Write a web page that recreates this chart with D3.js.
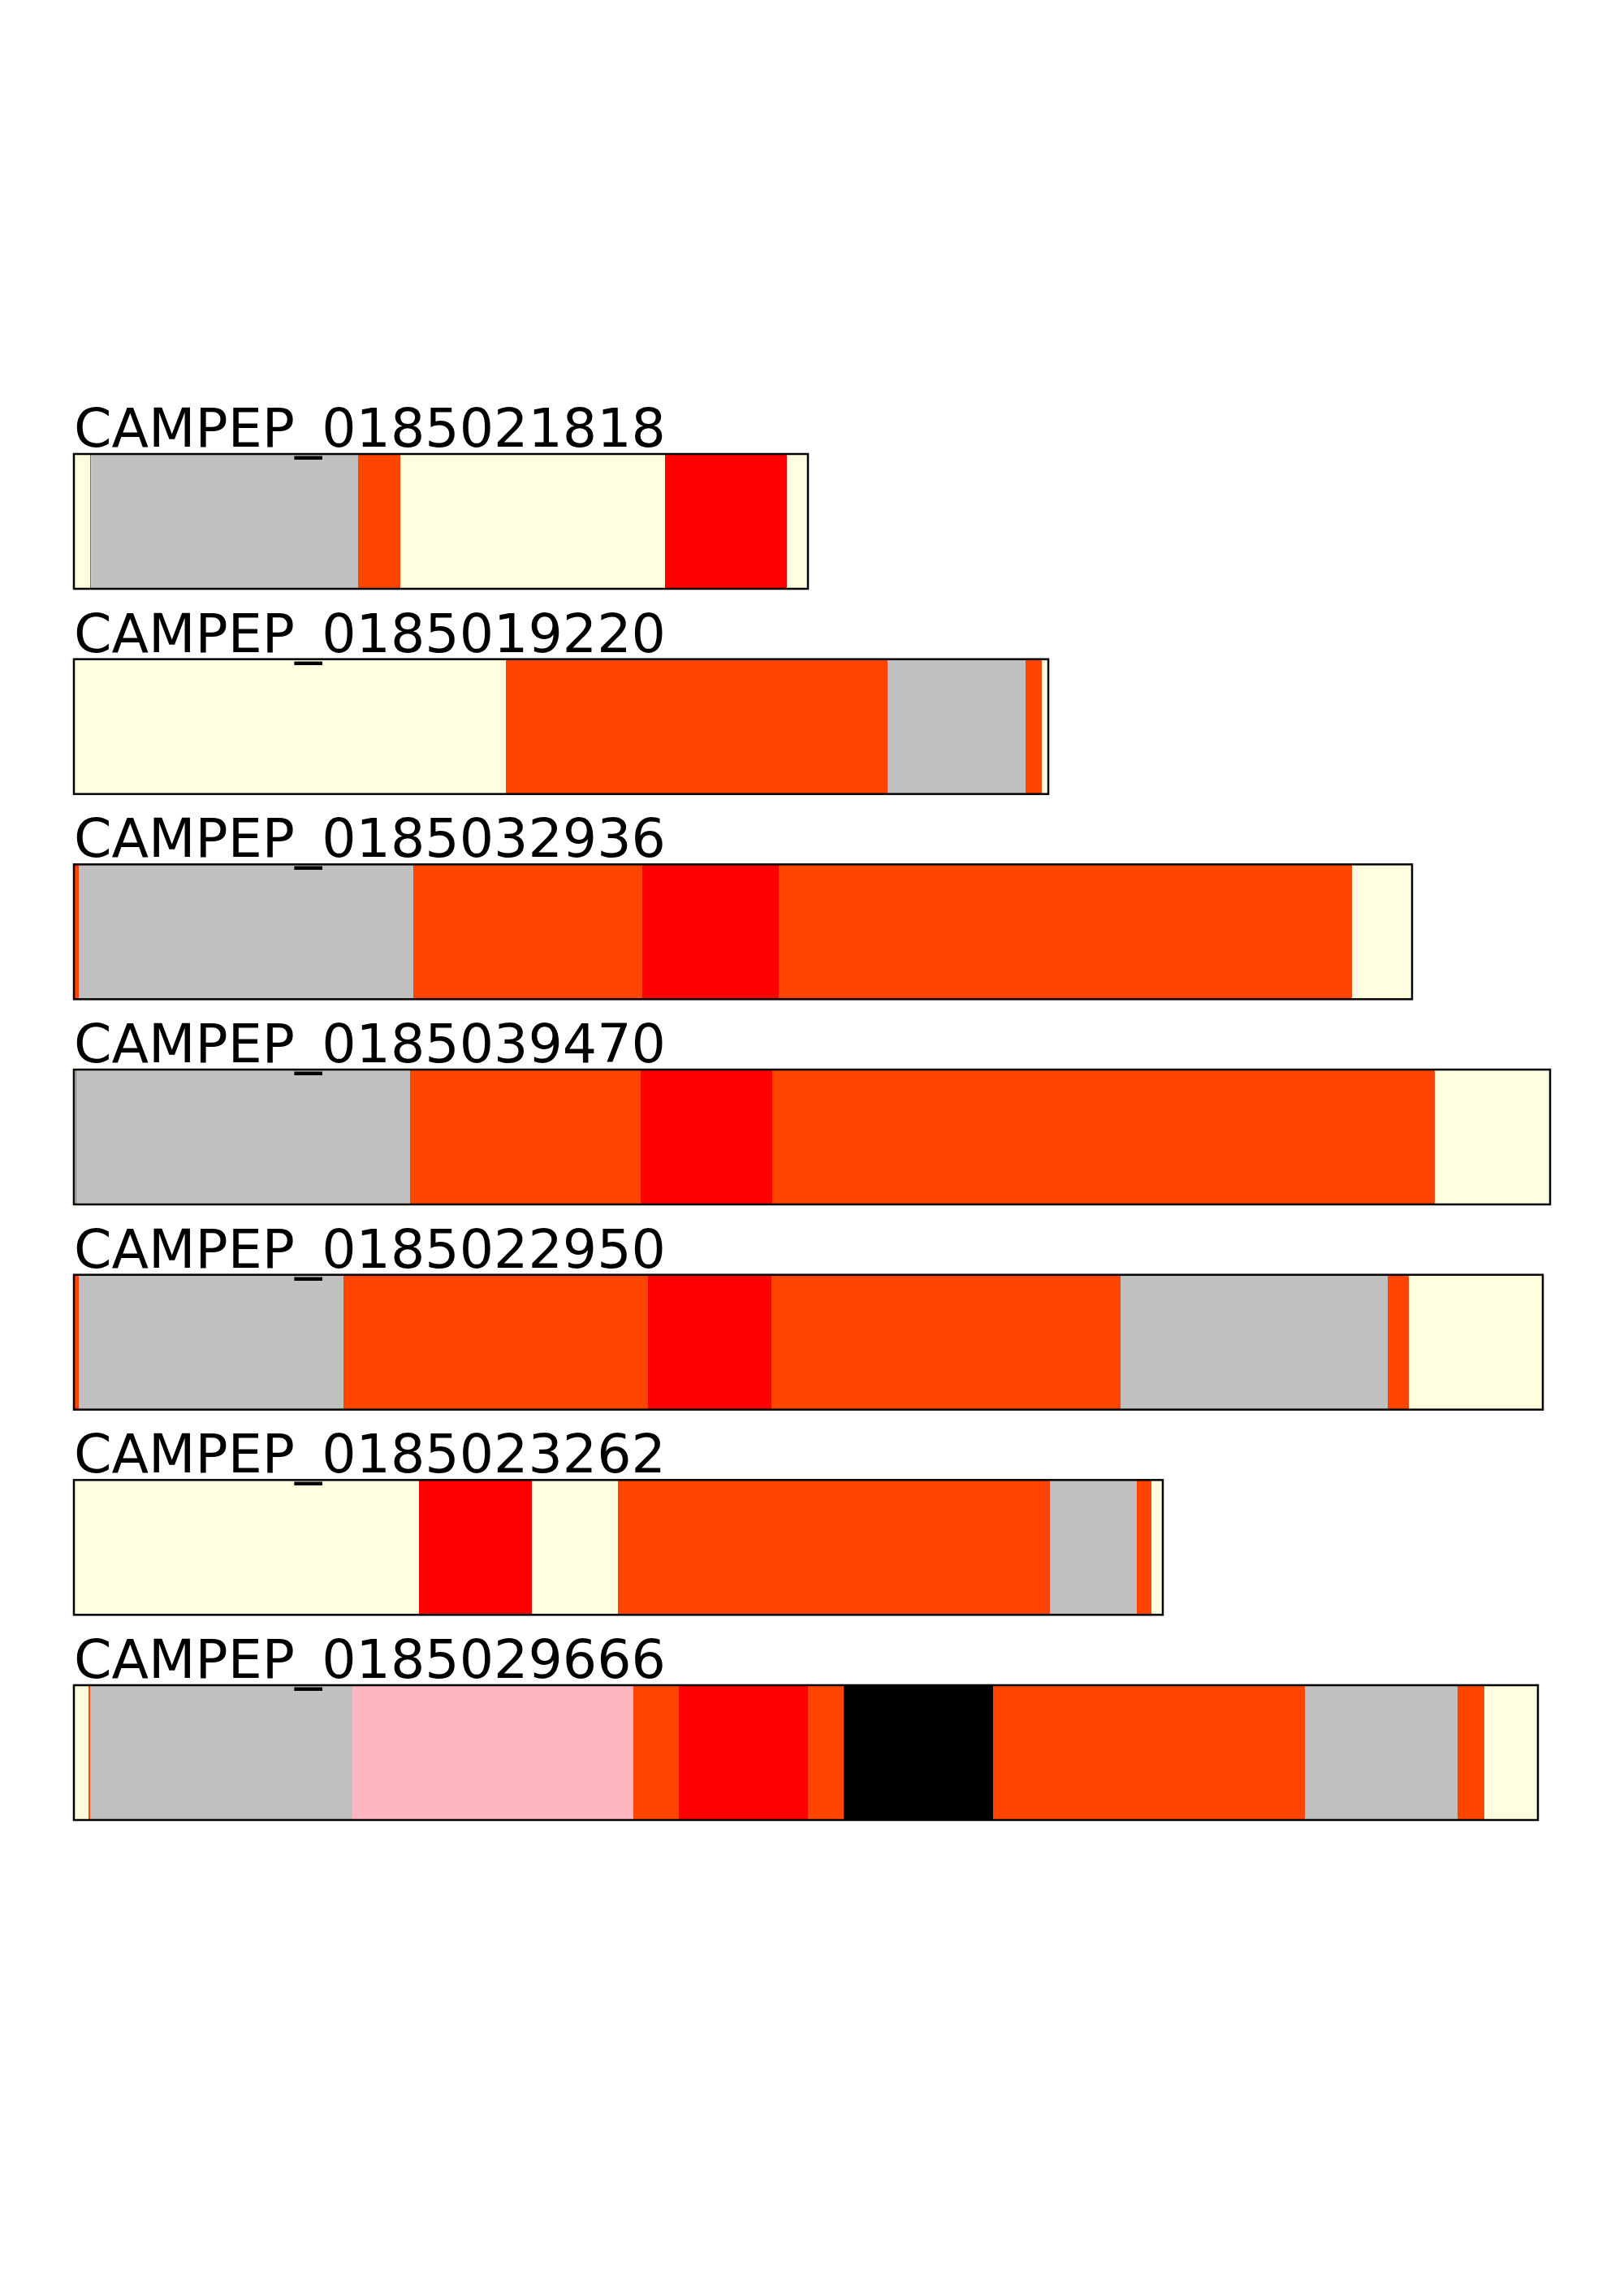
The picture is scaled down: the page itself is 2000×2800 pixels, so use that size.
<!DOCTYPE html>
<html>
<head>
<meta charset="utf-8">
<script src="https://cdn.jsdelivr.net/npm/d3@7"></script>
<style>
  html, body { margin: 0; padding: 0; background: #ffffff; }
  svg { display: block; }
</style>
</head>
<body>
<script>
// ---- Data ----
const names = [
  "CAMPEP_0185021818",
  "CAMPEP_0185019220",
  "CAMPEP_0185032936",
  "CAMPEP_0185039470",
  "CAMPEP_0185022950",
  "CAMPEP_0185023262",
  "CAMPEP_0185029666"
];

// segment boundaries (positions along each sequence)
const bounds1 = [0, 10, 10.6, 175, 201, 364, 439, 452];
const bounds2 = [0, 266, 501, 586, 596, 600];
const bounds3 = [0, 3, 209, 350, 434, 787, 824];
const bounds4 = [0, 1, 1.5, 207, 349, 430, 838, 909];
const bounds5 = [0, 3, 166, 353.5, 429.5, 644.5, 809, 822, 904.5];
const bounds6 = [0, 212.5, 282, 335, 601, 654.5, 663.5, 670.5];
const bounds7 = [0, 9, 10, 171.5, 344.5, 372.5, 452, 474, 566, 758, 852, 868.5, 901.5];

// segment categories (colour names) for each sequence
const cats1 = ["lightyellow","orangered","silver","orangered","lightyellow","red","lightyellow"];
const cats2 = ["lightyellow","orangered","silver","orangered","lightyellow"];
const cats3 = ["orangered","silver","orangered","red","orangered","lightyellow"];
const cats4 = ["lightyellow","orangered","silver","orangered","red","orangered","lightyellow"];
const cats5 = ["orangered","silver","orangered","red","orangered","silver","orangered","lightyellow"];
const cats6 = ["lightyellow","red","lightyellow","orangered","silver","orangered","lightyellow"];
const cats7 = ["lightyellow","orangered","silver","lightpink","orangered","red","orangered","black","orangered","silver","orangered","lightyellow"];

const allBounds = [bounds1, bounds2, bounds3, bounds4, bounds5, bounds6, bounds7];
const allCats = [cats1, cats2, cats3, cats4, cats5, cats6, cats7];

// ---- Chart ----
const W = 2000, H = 2800;
const svg = d3.select("body").append("svg").attr("width", W).attr("height", H);

const maxLen = d3.max(allBounds, b => b[b.length - 1]);
const x = d3.scaleLinear().domain([0, maxLen]).range([91, 1909]);
const y = d3.scaleBand().domain(names).range([559, 2241]).paddingInner(0.343).paddingOuter(0);

const colorScale = d3.scaleOrdinal()
  .domain(["lightyellow","orangered","silver","red","lightpink","black"])
  .range(["#FFFFE0","#FF4500","#C0C0C0","#FF0000","#FFB6C1","#000000"]);

names.forEach((name, i) => {
  const b = allBounds[i];
  const c = allCats[i];
  const segs = c.map((cat, j) => ({start: b[j], end: b[j + 1], cat}));
  const g = svg.append("g");
  g.selectAll("rect.seg").data(segs).join("rect")
    .attr("class", "seg")
    .attr("x", d => x(d.start))
    .attr("y", y(name))
    .attr("width", d => Math.max(0, x(d.end) - x(d.start)))
    .attr("height", y.bandwidth())
    .attr("fill", d => colorScale(d.cat));
  g.append("rect")
    .attr("x", x(0))
    .attr("y", y(name))
    .attr("width", x(b[b.length - 1]) - x(0))
    .attr("height", y.bandwidth())
    .attr("fill", "none")
    .attr("stroke", "#000")
    .attr("stroke-width", 2.5);
  svg.append("text")
    .attr("x", 91)
    .attr("y", y(name) - 9)
    .attr("font-family", "DejaVu Sans")
    .attr("font-size", 66.6)
    .attr("fill", "#000")
    .text(name);
});
</script>
</body>
</html>
